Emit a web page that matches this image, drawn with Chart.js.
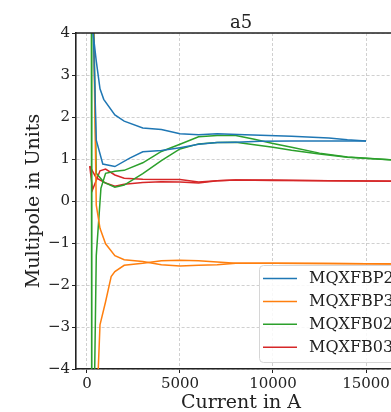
<!DOCTYPE html>
<html>
<head>
<meta charset="utf-8">
<script src="https://cdn.jsdelivr.net/npm/chart.js@4/dist/chart.umd.min.js"></script>
<style>
  html, body { margin: 0; padding: 0; overflow: hidden; background: #fff; }
  #wrap { width: 391px; height: 412px; overflow: hidden; }
  canvas { display: block; }
</style>
</head>
<body>
<div id="wrap"><canvas id="c" width="420" height="412"></canvas></div>
<script>
// a5 multipole vs. current, two ramp branches per magnet
const magnets = ['MQXFBP2', 'MQXFBP3', 'MQXFB02', 'MQXFB03'];
const colors = ['#1f77b4', '#ff7f0e', '#2ca02c', '#d62728'];

const xTicks = [0, 5000, 10000, 15000];
const yTicks = [-4, -3, -2, -1, 0, 1, 2, 3, 4];

// MQXFBP2
const bp2UpCurrent = [250, 500, 700, 900, 1500, 2000, 3000, 4000, 5000, 6000, 7000, 8500, 11000, 13000, 14000, 15000];
const bp2UpA5 = [4.3, 3.33, 2.67, 2.42, 2.05, 1.9, 1.74, 1.70, 1.60, 1.58, 1.60, 1.58, 1.54, 1.50, 1.46, 1.43];
const bp2DownCurrent = [250, 500, 850, 1500, 2300, 3000, 4000, 5000, 6000, 7000, 8000, 9300, 11000, 15000];
const bp2DownA5 = [5.5, 1.45, 0.88, 0.82, 1.02, 1.17, 1.20, 1.27, 1.35, 1.39, 1.40, 1.42, 1.43, 1.43];

// MQXFBP3
const bp3UpCurrent = [300, 500, 700, 1000, 1500, 2000, 3000, 4000, 5000, 6000, 7000, 8000, 10000, 13000, 17500];
const bp3UpA5 = [5.8, -0.1, -0.65, -1.02, -1.30, -1.40, -1.44, -1.52, -1.55, -1.53, -1.52, -1.48, -1.48, -1.49, -1.50];
const bp3DownCurrent = [500, 700, 1000, 1300, 1500, 2000, 3000, 4000, 5000, 6000, 7000, 8000, 10000, 13000, 17500];
const bp3DownA5 = [-5.2, -2.95, -2.4, -1.8, -1.68, -1.53, -1.48, -1.42, -1.41, -1.42, -1.45, -1.48, -1.48, -1.49, -1.50];

// MQXFB02
const b02UpCurrent = [250, 500, 900, 1500, 2000, 3000, 4000, 5000, 6000, 7000, 8000, 9000, 10000, 11000, 12500, 14000, 17500];
const b02UpA5 = [7.4, 0.66, 0.45, 0.33, 0.38, 0.65, 0.96, 1.24, 1.36, 1.39, 1.40, 1.34, 1.28, 1.21, 1.12, 1.04, 0.95];
const b02DownCurrent = [230, 260, 500, 750, 1000, 1500, 2000, 3000, 4000, 5000, 6000, 7000, 8000, 9000, 10000, 11000, 12500, 14000, 17500];
const b02DownA5 = [9, -9, -1.3, 0.3, 0.66, 0.71, 0.73, 0.91, 1.18, 1.35, 1.53, 1.56, 1.56, 1.47, 1.37, 1.28, 1.14, 1.05, 0.95];

// MQXFB03
const b03UpCurrent = [150, 300, 700, 1000, 1500, 2000, 3000, 4000, 5000, 6000, 7000, 8000, 10000, 13000, 17500];
const b03UpA5 = [0.83, 0.27, 0.72, 0.76, 0.62, 0.54, 0.52, 0.51, 0.51, 0.45, 0.48, 0.50, 0.49, 0.48, 0.47];
const b03DownCurrent = [150, 500, 1000, 1500, 2000, 3000, 4000, 5000, 6000, 7000, 8000, 10000, 13000, 17500];
const b03DownA5 = [0.83, 0.55, 0.43, 0.35, 0.40, 0.44, 0.46, 0.45, 0.43, 0.48, 0.50, 0.50, 0.48, 0.47];

const branches = [
  [0, bp2UpCurrent, bp2UpA5], [0, bp2DownCurrent, bp2DownA5],
  [1, bp3UpCurrent, bp3UpA5], [1, bp3DownCurrent, bp3DownA5],
  [2, b02UpCurrent, b02UpA5], [2, b02DownCurrent, b02DownA5],
  [3, b03UpCurrent, b03UpA5], [3, b03DownCurrent, b03DownA5]
];

const datasets = branches.map(([m, xs, ys]) => ({
  label: magnets[m],
  data: xs.map((x, i) => ({ x: x, y: ys[i] })),
  borderColor: colors[m],
  backgroundColor: colors[m],
  borderWidth: 1.5,
  pointRadius: 0,
  tension: 0,
  fill: false
}));

const SERIF = '"DejaVu Serif", "Liberation Serif", serif';
const TEXT = '#222';

const decorations = {
  id: 'decorations',
  afterDatasetsDraw(chart) {
    const { ctx, chartArea: a } = chart;
    ctx.save();
    // top spine
    ctx.strokeStyle = '#222';
    ctx.lineWidth = 1.6;
    ctx.beginPath();
    ctx.moveTo(a.left, a.top);
    ctx.lineTo(a.right, a.top);
    ctx.stroke();

    // legend, lower right inside the axes
    const lx = 259, ly = 265, lw = 170, lh = 97;
    ctx.beginPath();
    ctx.roundRect(lx + 0.5, ly + 0.5, lw, lh, 4);
    ctx.fillStyle = 'rgba(255,255,255,0.85)';
    ctx.fill();
    ctx.strokeStyle = '#d6d6d6';
    ctx.lineWidth = 1;
    ctx.stroke();
    ctx.font = '16px ' + SERIF;
    ctx.textBaseline = 'middle';
    ctx.textAlign = 'left';
    magnets.forEach((name, i) => {
      const y = 278.5 + i * 22.9;
      ctx.strokeStyle = colors[i];
      ctx.lineWidth = 1.5;
      ctx.beginPath();
      ctx.moveTo(263, y);
      ctx.lineTo(297, y);
      ctx.stroke();
      ctx.fillStyle = TEXT;
      ctx.fillText(name, 309, y + 0.5);
    });

    // title and axis titles
    ctx.fillStyle = TEXT;
    ctx.textAlign = 'center';
    ctx.textBaseline = 'alphabetic';
    ctx.font = '18px ' + SERIF;
    ctx.fillText('a5', (a.left + a.right) / 2, 28);
    ctx.font = '19px ' + SERIF;
    ctx.fillText('Current in A', (a.left + a.right) / 2, 408);
    ctx.translate(34, (a.top + a.bottom) / 2);
    ctx.rotate(-Math.PI / 2);
    ctx.textBaseline = 'middle';
    ctx.fillText('Multipole in Units', 0, 0);
    ctx.restore();
  }
};

const gridStyle = {
  color: 'rgba(185,185,185,0.85)',
  lineWidth: 0.8,
  tickColor: '#222',
  tickLength: 4,
  tickWidth: 1,
  tickBorderDash: []
};
const borderStyle = { display: true, color: '#222', width: 1.6, dash: [3, 2] };

new Chart(document.getElementById('c'), {
  type: 'line',
  data: { datasets: datasets },
  options: {
    responsive: false,
    animation: false,
    devicePixelRatio: 1,
    layout: { padding: { top: 33, left: 0, right: 14, bottom: 0 } },
    plugins: { legend: { display: false }, tooltip: { enabled: false }, title: { display: false } },
    scales: {
      x: {
        type: 'linear',
        min: -590,
        max: 17150,
        grid: gridStyle,
        border: borderStyle,
        afterBuildTicks: (s) => { s.ticks = xTicks.map(v => ({ value: v })); },
        afterFit: (s) => { s.height = 43; s.paddingLeft = 0; s.paddingRight = 0; },
        ticks: {
          font: { family: SERIF, size: 15 },
          color: TEXT,
          padding: 2,
          maxRotation: 0,
          callback: (v) => String(v)
        }
      },
      y: {
        type: 'linear',
        min: -4,
        max: 4,
        grid: gridStyle,
        border: borderStyle,
        afterBuildTicks: (s) => { s.ticks = yTicks.map(v => ({ value: v })); },
        afterFit: (s) => { s.width = 76; s.paddingTop = 0; s.paddingBottom = 0; },
        ticks: {
          font: { family: SERIF, size: 15 },
          color: TEXT,
          padding: 2,
          callback: (v) => (v < 0 ? '\u2212' + Math.abs(v) : String(v))
        }
      }
    }
  },
  plugins: [decorations]
});
</script>
</body>
</html>
